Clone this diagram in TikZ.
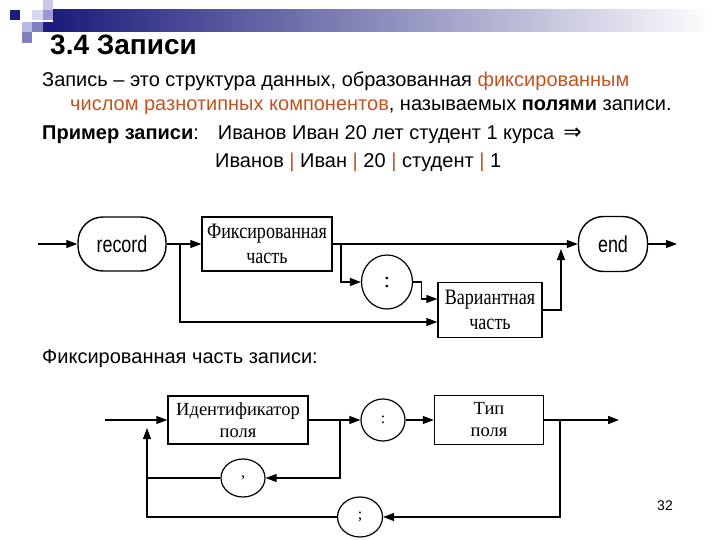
\documentclass[tikz,border=0pt]{standalone}
\usepackage{fontspec}
\usepackage{graphicx}
\setmainfont{Liberation Sans}
\newfontfamily\seriffont{Liberation Serif}
\newfontfamily\condserif[FakeStretch=0.82]{Liberation Serif}
\newfontfamily\djv{DejaVu Sans}
\newcommand{\narrowtxt}[1]{\scalebox{0.78}[1]{#1}}
\usetikzlibrary{arrows.meta,shapes.geometric,calc}
\definecolor{navy}{RGB}{28,28,124}
\definecolor{accent}{RGB}{196,82,30}
\definecolor{sqA}{RGB}{200,200,230}
\definecolor{sqB}{RGB}{154,154,208}
\definecolor{sqC}{RGB}{184,184,224}
\definecolor{sqD}{RGB}{128,128,192}
\begin{document}
\begin{tikzpicture}[x=1pt,y=-1pt,
  arr/.style={line width=1.1pt,-{Triangle[length=11pt,width=8pt]}},
  ln/.style={line width=1.1pt},
  heavy/.style={line width=1.6pt},
  term/.style={draw,line width=1.4pt,rounded corners=25pt,font=\fontsize{23}{24}\selectfont,inner sep=0pt},
  boxn/.style={draw,line width=1.4pt,align=center,inner sep=0pt,font=\condserif\fontsize{22}{25}\selectfont},
  boxm/.style={draw,line width=1.4pt,align=center,inner sep=0pt,font=\seriffont\fontsize{18.5}{22}\selectfont},
  circ/.style={draw,ellipse,line width=1.2pt,inner sep=0pt,font=\seriffont\fontsize{16}{18}\selectfont},
  body/.style={anchor=base west,inner sep=0pt,font=\fontsize{20}{22}\selectfont}]
\useasboundingbox (0,0) rectangle (720,540);
% header decoration
\shade[left color=navy,right color=white] (53,10) rectangle (715,32);
\fill[navy] (10,10) rectangle (20,20);
\fill[sqA] (43,0) rectangle (53,10);
\fill[sqA!70!white] (32,10) rectangle (43,20);
\fill[sqB] (43,10) rectangle (53,20);
\fill[sqC] (22,22) rectangle (32,32);
\fill[sqD] (32,22) rectangle (43,32);
\fill[navy] (43,22) rectangle (53,32);
\fill[sqD] (22,32) rectangle (32,43);
% title and text
\node[anchor=base west,inner sep=0pt,font=\bfseries\fontsize{28}{30}\selectfont] (title) at (50,55) {3.4 Записи};
\node[body] (l1) at (42,87) {Запись – это структура данных, образованная \textcolor{accent}{фиксированным}};
\node[body] (l2) at (70,111) {\textcolor{accent}{числом разнотипных компонентов}, называемых \textbf{полями} записи.};
\node[body] (l3) at (42,140) {\textbf{Пример записи}:\hspace{19pt}Иванов Иван 20 лет студент 1 курса\hspace{9pt}{\djv\fontsize{22}{22}\selectfont ⇒}};
\node[body] (l4) at (215,168) {Иванов \textcolor{accent}{|} Иван \textcolor{accent}{|} 20 \textcolor{accent}{|} студент \textcolor{accent}{|} 1};
\node[body] (l5) at (42,363) {Фиксированная часть записи:};
\node[anchor=base,inner sep=0pt,font=\fontsize{14}{16}\selectfont] (pg) at (665,510) {32};
% diagram 1
\node[term,minimum width=88pt,minimum height=54pt] (rec) at (122,244) {\narrowtxt{record}};
\node[boxn,minimum width=130pt,minimum height=54pt] (fix) at (267,244) {Фиксированная\\часть};
\node[circ,minimum width=51pt,minimum height=54pt,font=\seriffont\fontsize{22}{22}\selectfont] (col1) at (387,282) {:};
\node[boxn,minimum width=104pt,minimum height=55pt] (var) at (490,310) {Вариантная\\часть};
\node[term,minimum width=69pt,minimum height=55pt] (end) at (613,244) {\narrowtxt{end}};
\coordinate (in1) at (38,244);
\coordinate (out1) at (677,244);
\coordinate (b1) at (180,244);
\coordinate (b2) at (341,244);
\coordinate (up1) at (561,249);
\draw[arr] (in1) -- (rec.west);
\draw[arr] (rec.east) -- (fix.west);
\draw[arr] (b1) |- ([yshift=-12pt]var.west);
\draw[arr] (fix.east) -- (end.west);
\draw[arr] (b2) |- (col1.west);
\draw[arr] (col1.east) -- ++(8,0) |- ([yshift=11pt]var.west);
\draw[arr] (var.east) -| (up1);
\draw[arr] (end.east) -- (out1);
% diagram 2
\node[boxm,minimum width=140pt,minimum height=48pt] (idf) at (238,420) {Идентификатор\\поля};
\node[circ,minimum width=44pt,minimum height=42pt] (col2) at (383,420) {:};
\node[boxm,minimum width=109pt,minimum height=49pt] (typ) at (489,420) {Тип\\поля};
\node[circ,minimum width=44pt,minimum height=38pt] (cm) at (243,478) {,};
\node[circ,minimum width=45pt,minimum height=40pt] (sc) at (360,517) {;};
\coordinate (in2) at (105,420);
\coordinate (out2) at (619,420);
\coordinate (j2) at (147,428);
\coordinate (b4) at (340,420);
\coordinate (b5) at (560,420);
\draw[heavy] (in2) -- (j2 |- in2);
\draw[arr] (j2 |- in2) -- (idf.west);
\draw[arr] (idf.east) -- (col2.west);
\draw[arr] (b4) |- (cm.east);
\draw[ln] (cm.west) -- (cm.west -| j2);
\draw[arr] (sc.west) -| (j2);
\draw[arr] (col2.east) -- (typ.west);
\draw[heavy,-{Triangle[length=11pt,width=8pt]}] (typ.east) -- (out2);
\draw[arr] (b5) |- (sc.east);
\end{tikzpicture}
\end{document}
